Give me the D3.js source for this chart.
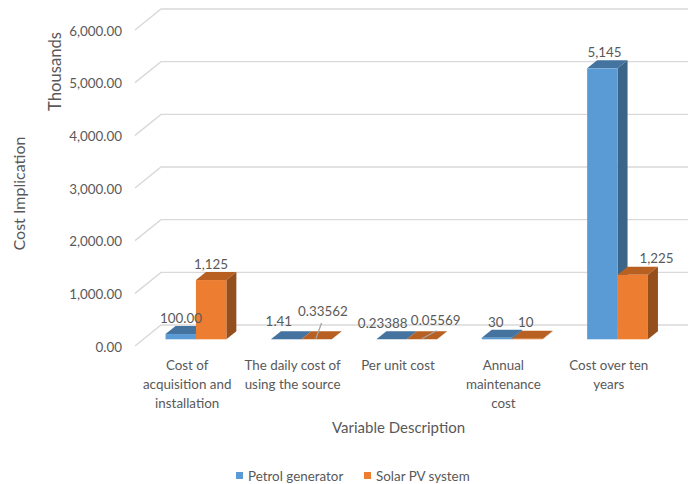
<!DOCTYPE html>
<html>
<head>
<meta charset="utf-8">
<script src="https://cdn.jsdelivr.net/npm/d3@7"></script>
<style>
  html, body { margin: 0; padding: 0; background: #fff; }
  svg { display: block; }
  text { font-family: Lato, "Open Sans", sans-serif; fill: #595959; }
</style>
</head>
<body>
<div id="chart"></div>
<script>
// Cost comparison of two energy sources
const categories = [
  ["Cost of", "acquisition and", "installation"],
  ["The daily cost of", "using the source"],
  ["Per unit cost"],
  ["Annual", "maintenance", "cost"],
  ["Cost over ten", "years"]
];
const petrolValues = [100, 1.41, 0.23388, 30, 5145];
const solarValues = [1125, 0.33562, 0.05569, 10, 1225];
const petrolLabels = ["100.00", "1.41", "0.23388", "30", "5,145"];
const solarLabels = ["1,125", "0.33562", "0.05569", "10", "1,225"];
const seriesNames = ["Petrol generator", "Solar PV system"];
const yTicks = [0, 1000, 2000, 3000, 4000, 5000, 6000];

const width = 691, height = 484;
const svg = d3.select("#chart").append("svg").attr("width", width).attr("height", height);

// Oblique projection: the floor runs from the front edge to the back wall
const floorDepth = { x: 26, y: -21 };
const barInset = { x: 8.25, y: -6.7 };
const barDepth = { x: 10, y: -8 };

const floorFrontY = 346, plotHeight = 316;
const y = d3.scaleLinear().domain([0, 6000]).range([floorFrontY, floorFrontY - plotHeight]);
const x = d3.scaleBand().domain(d3.range(categories.length)).range([135, 662]).padding(0);
const barWidth = 30.4;

// Back wall gridlines with their diagonal run down the side wall
const grid = svg.append("g").attr("fill", "none").attr("stroke", "#D9D9D9").attr("stroke-width", 1.4);
grid.selectAll("path").data(yTicks).join("path")
  .attr("d", t => `M135,${y(t)}L${135 + floorDepth.x},${y(t) + floorDepth.y}L688,${y(t) + floorDepth.y}`);

// Value axis labels
const axis = svg.append("g").attr("transform", "translate(122,1)")
  .call(d3.axisLeft(y).tickValues(yTicks).tickFormat(d3.format(",.2f")).tickSize(0).tickPadding(0));
axis.select(".domain").remove();
axis.selectAll("text").attr("font-size", 13.4).style("font-family", "Lato, sans-serif").style("fill", "#595959");

// Screen position of the seam between a category's two boxes
const seam = i => x(i) + x.bandwidth() / 2 + barInset.x;

// One box per value: top, side and front faces
function drawBox(g, x0, value, colors) {
  const x1 = x0 + barWidth;
  const base = y(0) + barInset.y, top = base - (y(0) - y(value));
  const dx = barDepth.x, dy = barDepth.y;
  g.append("path").attr("fill", colors.top)
    .attr("d", `M${x0},${top}L${x0 + dx},${top + dy}L${x1 + dx},${top + dy}L${x1},${top}Z`);
  g.append("path").attr("fill", colors.side)
    .attr("d", `M${x1},${top}L${x1 + dx},${top + dy}L${x1 + dx},${base + dy}L${x1},${base}Z`);
  g.append("rect").attr("fill", colors.front)
    .attr("x", x0).attr("y", top).attr("width", barWidth).attr("height", base - top);
}
const petrolColors = { front: "#5B9BD5", top: "#44739F", side: "#3A6488" };
const solarColors = { front: "#ED7D31", top: "#B85F22", side: "#954F1C" };

const bars = svg.append("g");
categories.forEach((_, i) => {
  drawBox(bars, seam(i) - barWidth, petrolValues[i], petrolColors);
  drawBox(bars, seam(i), solarValues[i], solarColors);
});

// Leader lines for the two labels pulled away from their bars
const leaders = svg.append("g").attr("stroke", "#A6A6A6").attr("stroke-width", 1.3);
leaders.append("line").attr("x1", seam(1) + 20.2).attr("y1", 323).attr("x2", seam(1) + 14.5).attr("y2", 338.7);
leaders.append("line").attr("x1", seam(2) + 29.7).attr("y1", 330.7).attr("x2", seam(2) + 14.7).attr("y2", 339);

// Data labels
const petrolOffsets = [[-15, 322.5], [-22.5, 326], [-24, 327.5], [-16.5, 326.5], [-13, 57]];
const solarOffsets = [[15, 269], [21.5, 315.5], [29, 324.5], [13.5, 326.5], [39, 263]];
const labels = svg.append("g").attr("font-size", 13.4).attr("text-anchor", "middle");
categories.forEach((_, i) => {
  labels.append("text").attr("x", seam(i) + petrolOffsets[i][0]).attr("y", petrolOffsets[i][1]).text(petrolLabels[i]);
  labels.append("text").attr("x", seam(i) + solarOffsets[i][0]).attr("y", solarOffsets[i][1]).text(solarLabels[i]);
});

// Category labels
const catGroup = svg.append("g").attr("font-size", 13.4).attr("text-anchor", "middle");
categories.forEach((lines, i) => {
  lines.forEach((line, j) => {
    catGroup.append("text")
      .attr("x", x(i) + x.bandwidth() / 2 - 0.5)
      .attr("y", 370 + j * 18.8)
      .text(line);
  });
});

// Axis titles
svg.append("text").attr("x", 398.5).attr("y", 433).attr("text-anchor", "middle").attr("font-size", 15).text("Variable Description");
svg.append("text").attr("transform", "translate(25,193.5) rotate(-90)").attr("text-anchor", "middle").attr("font-size", 16).text("Cost Implication");
svg.append("text").attr("transform", "translate(61,71.5) rotate(-90)").attr("text-anchor", "middle").attr("font-size", 16.6).text("Thousands");

// Legend
const legendX = [236, 364];
const legendColors = [petrolColors.front, solarColors.front];
seriesNames.forEach((name, i) => {
  svg.append("rect").attr("x", legendX[i]).attr("y", 472).attr("width", 7).attr("height", 7).attr("fill", legendColors[i]);
  svg.append("text").attr("x", legendX[i] + 12).attr("y", 481).attr("font-size", 13.4).text(name);
});
</script>
</body>
</html>
